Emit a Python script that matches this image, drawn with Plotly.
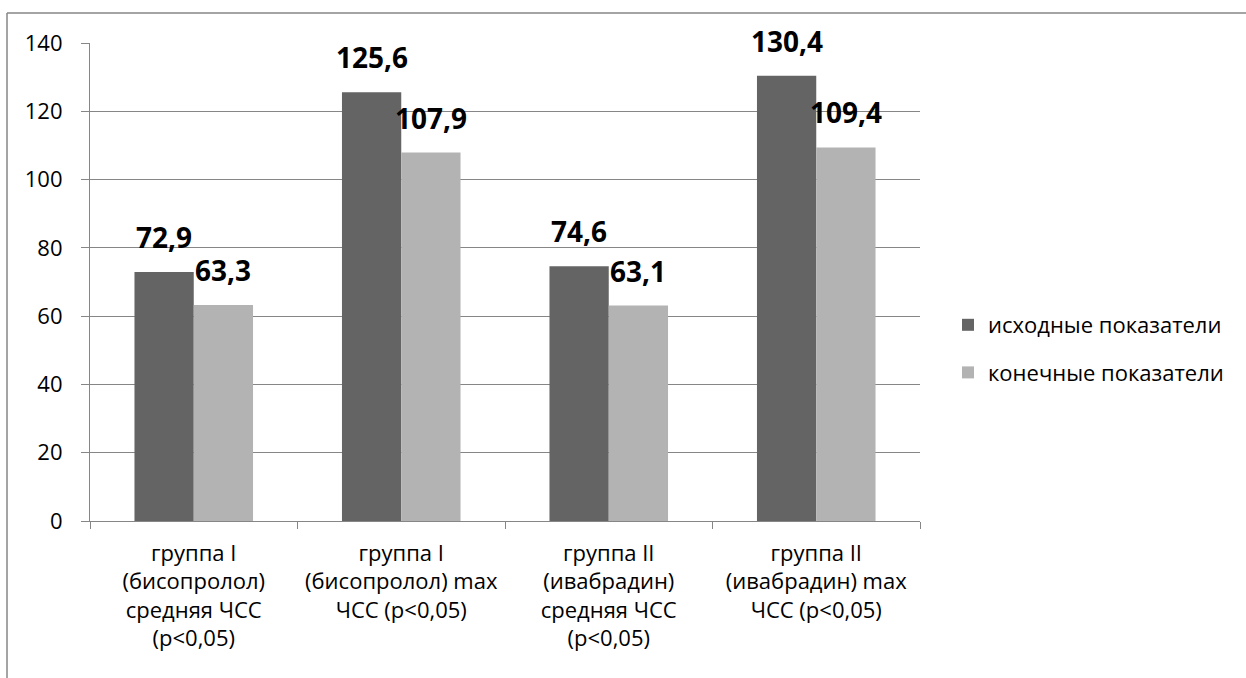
import plotly.graph_objects as go

categories = [
    "группа I<br>(бисопролол)<br>средняя ЧСС<br>(p<0,05)",
    "группа I<br>(бисопролол) max<br>ЧСС (p<0,05)",
    "группа II<br>(ивабрадин)<br>средняя ЧСС<br>(p<0,05)",
    "группа II<br>(ивабрадин) max<br>ЧСС (p<0,05)",
]
series_names = ["исходные показатели", "конечные показатели"]
initial_values = [72.9, 125.6, 74.6, 130.4]
final_values = [63.3, 107.9, 63.1, 109.4]
colors = ["#646464", "#b3b3b3"]

W, H = 1246, 678
ML, MR, MT, MB = 90, 326, 43, 157
plot_w = W - ML - MR
plot_h = H - MT - MB
bargap = 0.4286
bar_px = plot_w / len(categories) * (1 - bargap) / 2

FONT = "Open Sans"

def fmt(v):
    return f"{v:.1f}".replace(".", ",")

fig = go.Figure()
for name, vals, col in zip(series_names, [initial_values, final_values], colors):
    fig.add_trace(go.Bar(
        x=categories, y=vals, name=name, marker_color=col,
        marker_line_width=0, legendgroup=name,
    ))

annotations = []
for k, vals in enumerate([initial_values, final_values]):
    shift = (k - 0.5) * bar_px
    for c, v in zip(categories, vals):
        annotations.append(dict(
            x=c, y=v, xref="x", yref="y", text=f"<b>{fmt(v)}</b>",
            showarrow=False, xshift=shift, yshift=14, yanchor="bottom",
            font=dict(family=FONT, size=28, color="black"),
        ))

# outer frame (top and left edges visible)
x_left = (7 - ML) / plot_w
y_top = 1 + (MT - 13) / plot_h
x_right = (W - ML) / plot_w
y_bot = -MB / plot_h
shapes = [
    dict(type="line", xref="paper", yref="paper", x0=x_left, x1=x_right + 0.01,
         y0=y_top, y1=y_top, line=dict(color="#868686", width=1.5)),
    dict(type="line", xref="paper", yref="paper", x0=x_left, x1=x_left,
         y0=y_top, y1=y_bot - 0.01, line=dict(color="#868686", width=1.5)),
]

fig.update_layout(
    width=W, height=H,
    margin=dict(l=ML, r=MR, t=MT, b=MB),
    paper_bgcolor="white", plot_bgcolor="white",
    barmode="group", bargap=bargap, bargroupgap=0,
    font=dict(family=FONT, size=22, color="black"),
    legend=dict(x=(948 - ML) / plot_w, y=(H - MB - 349) / plot_h,
                xanchor="left", yanchor="middle",
                font=dict(family=FONT, size=22, color="black"),
                traceorder="grouped", tracegroupgap=16,
                itemwidth=30),
    annotations=annotations,
    shapes=shapes,
)
fig.update_yaxes(
    range=[0, 140], dtick=20, showgrid=True, gridcolor="#868686", gridwidth=1.2,
    showline=True, linecolor="#868686", linewidth=1.2,
    ticks="outside", ticklen=8, tickcolor="#868686",
    ticklabelstandoff=14, zeroline=False,
    tickfont=dict(family=FONT, size=22, color="black"),
)
fig.update_xaxes(
    showline=True, linecolor="#868686", linewidth=1.2,
    ticks="outside", ticklen=7, tickcolor="#868686", tickson="boundaries",
    ticklabelstandoff=12,
    tickangle=0, tickfont=dict(family=FONT, size=22, color="black"),
)

fig.write_html("out.html", config={"displayModeBar": False},
               post_script="document.body.style.margin='0px';")
